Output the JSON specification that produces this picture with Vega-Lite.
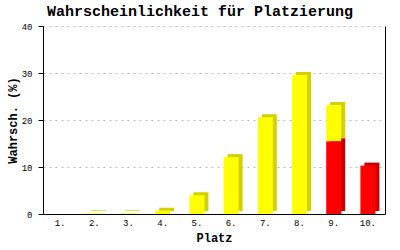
{
  "$schema": "https://vega.github.io/schema/vega-lite/v6.json",
  "width": 342,
  "height": 188,
  "autosize": "none",
  "padding": {"left": 43, "top": 26, "right": 15, "bottom": 36},
  "background": "white",
  "title": {
    "text": "Wahrscheinlichkeit für Platzierung",
    "font": "Liberation Mono",
    "fontSize": 15,
    "fontWeight": "bold",
    "color": "black",
    "anchor": "middle",
    "dx": -14,
    "offset": 3
  },
  "data": {
    "values": [
      {"platz": "1.", "teil": "gelb", "wert": 0},
      {"platz": "2.", "teil": "gelb", "wert": 0.15},
      {"platz": "3.", "teil": "gelb", "wert": 0.15},
      {"platz": "4.", "teil": "gelb", "wert": 0.7},
      {"platz": "5.", "teil": "gelb", "wert": 4.0},
      {"platz": "6.", "teil": "gelb", "wert": 12.1},
      {"platz": "7.", "teil": "gelb", "wert": 20.6},
      {"platz": "8.", "teil": "gelb", "wert": 29.6},
      {"platz": "9.", "teil": "rot", "wert": 15.5},
      {"platz": "9.", "teil": "gelb", "wert": 7.7},
      {"platz": "10.", "teil": "rot", "wert": 10.3}
    ]
  },
  "encoding": {
    "x": {
      "field": "platz",
      "type": "ordinal",
      "sort": null,
      "scale": {"paddingInner": 0, "paddingOuter": 0},
      "axis": {
        "title": "Platz",
        "titleFont": "Liberation Mono",
        "titleFontSize": 12,
        "titleFontWeight": "bold",
        "titleColor": "black",
        "titlePadding": 5,
        "labelFont": "Liberation Mono",
        "labelFontSize": 9,
        "labelColor": "black",
        "labelAngle": 0,
        "labelPadding": 4,
        "ticks": false,
        "domainColor": "black",
        "grid": false
      }
    },
    "y": {
      "field": "wert",
      "type": "quantitative",
      "stack": "zero",
      "scale": {"domain": [0, 40]}
    },
    "order": {"field": "teil", "sort": "descending"}
  },
  "layer": [
    {
      "mark": {"type": "bar", "size": 15, "xOffset": 4, "yOffset": -3},
      "encoding": {
        "color": {
          "field": "teil",
          "type": "nominal",
          "scale": {"domain": ["gelb", "rot"], "range": ["#d4d000", "#cc0000"]},
          "legend": null
        },
        "y": {
          "field": "wert",
          "type": "quantitative",
          "stack": "zero",
          "scale": {"domain": [0, 40]},
          "axis": {
            "orient": "right",
            "labels": false,
            "ticks": false,
            "grid": false,
            "title": null,
            "domainColor": "black"
          }
        }
      }
    },
    {
      "mark": {"type": "bar", "size": 15},
      "encoding": {
        "color": {
          "field": "teil",
          "type": "nominal",
          "scale": {"domain": ["gelb", "rot"], "range": ["#ffff00", "#ff0000"]},
          "legend": null
        },
        "y": {
          "field": "wert",
          "type": "quantitative",
          "stack": "zero",
          "scale": {"domain": [0, 40]},
          "axis": {
            "orient": "left",
            "title": "Wahrsch. (%)",
            "titleFont": "Liberation Mono",
            "titleFontSize": 12,
            "titleFontWeight": "bold",
            "titleColor": "black",
            "titlePadding": 2,
            "values": [0, 10, 20, 30, 40],
            "labelFont": "Liberation Mono",
            "labelFontSize": 9,
            "labelColor": "black",
            "labelPadding": 6,
            "tickSize": 5,
            "tickColor": "black",
            "domainColor": "black",
            "grid": true,
            "gridColor": "#bbbbbb",
            "gridDash": [2, 4]
          }
        }
      }
    }
  ],
  "resolve": {"scale": {"color": "independent"}, "axis": {"y": "independent"}},
  "config": {"view": {"stroke": null}}
}
